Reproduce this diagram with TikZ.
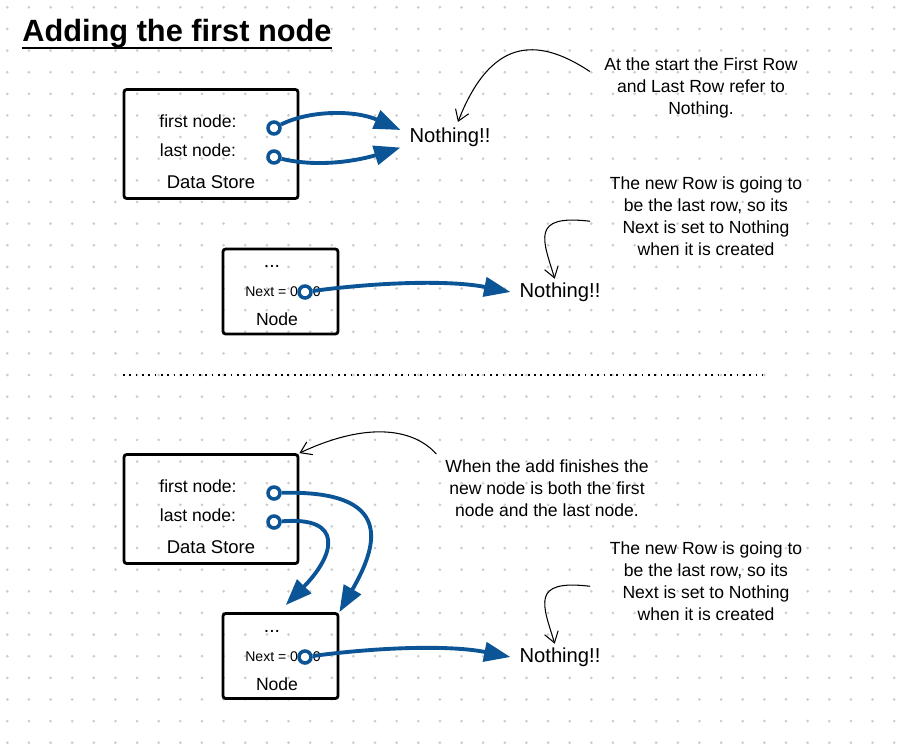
\documentclass[tikz,border=0pt]{standalone}
\usepackage{fontspec}
\setmainfont{Liberation Sans}
\usetikzlibrary{arrows.meta, positioning}
\definecolor{linkblue}{RGB}{11,84,150}

\begin{document}
\begin{tikzpicture}[
    x=0.02cm, y=-0.02cm,
    node distance=0.3cm,
    store/.style={draw, line width=1.6pt, rounded corners=1.5pt, minimum width=3.48cm, minimum height=2.18cm},
    rownode/.style={draw, line width=1.6pt, rounded corners=1.5pt, minimum width=2.3cm, minimum height=1.7cm},
    field/.style={font=\fontsize{10}{12}\selectfont, inner sep=0pt},
    port/.style={circle, draw=linkblue, fill=white, line width=2pt, minimum size=0.24cm, inner sep=0pt},
    link/.style={draw=linkblue, line width=2.2pt, -{Triangle[length=15pt,width=11pt]}},
    nothing/.style={font=\fontsize{11.5}{14}\selectfont, inner sep=1pt},
    note/.style={align=center, font=\fontsize{10}{12.5}\selectfont, inner sep=1pt},
    pointer/.style={draw, line width=0.6pt, -{Straight Barb[length=6pt,width=8pt]}}
]
\useasboundingbox (0,0) rectangle (898,751);

\foreach \i in {0,...,41}
  \foreach \j in {0,...,34}
    \fill[gray!40] (7.3+21.63*\i, 7.3+21.63*\j) circle (0.85pt);

\node[anchor=base west, inner sep=0pt, font=\bfseries\fontsize{17.5}{20}\selectfont] (title) at (22,41) {Adding the first node};
\draw[line width=1.3pt] ([yshift=-4pt]title.base west) -- ([yshift=-4pt]title.base east);

% before
\node[store] (storeA) at (211,144) {};
\node[field] (firstA) at (198,121) {first node:};
\node[field] (lastA) at (198,150) {last node:};
\node[field, font=\fontsize{10.5}{12}\selectfont] (nameA) at (211,182) {Data Store};
\node[port] (firstportA) at (274,128) {};
\node[port] (lastportA) at (274,157) {};
\node[nothing] (nothingA) at (450,137) {Nothing!!};
\draw[link] (firstportA) .. controls (310,110) and (355,110) .. ([xshift=-4pt,yshift=4pt]nothingA.west);
\draw[link] (lastportA) .. controls (320,168) and (360,160) .. ([xshift=-4pt,yshift=-6pt]nothingA.west);

\node[note] (noteA) at (701,88) {At the start the First Row\\and Last Row refer to\\Nothing.};
\draw[pointer] ([xshift=-7pt,yshift=-9pt]noteA.north west) .. controls (535,35) and (490,40) .. ([xshift=4.5pt,yshift=2pt]nothingA.north);

\node[rownode] (rowA) at (280.5,291.5) {};
\node[field, font=\fontsize{11}{12}\selectfont] (dotsA) at (272,266) {...};
\node[field, font=\fontsize{8}{10}\selectfont] (nextA) at (283,292) {Next = 0x10};
\node[field] (kindA) at (277,319) {Node};
\node[port] (nextportA) at (305,292) {};
\node[nothing] (nothingB) at (560,292) {Nothing!!};
\draw[link] (nextportA) .. controls (380,282) and (450,280) .. ([xshift=-4pt]nothingB.west);

\node[note] (noteB) at (706,216) {The new Row is going to\\be the last row, so its\\Next is set to Nothing\\when it is created};
\draw[pointer] ([xshift=-10pt,yshift=-3pt]noteB.west) .. controls (530,214) and (543,240) .. ([xshift=-3pt,yshift=1pt]nothingB.north);

\coordinate (sepL) at (123,375);
\coordinate (sepR) at (763,375);
\draw[line width=0.7pt, dash pattern=on 1pt off 2.6pt] (sepL) -- (sepR);

% after
\node[store] (storeB) at (211,509) {};
\node[field] (firstB) at (198,486) {first node:};
\node[field] (lastB) at (198,515) {last node:};
\node[field, font=\fontsize{10.5}{12}\selectfont] (nameB) at (211,547) {Data Store};
\node[port] (firstportB) at (274,493) {};
\node[port] (lastportB) at (274,522) {};

\node[rownode] (rowB) at (280.5,656) {};
\node[field, font=\fontsize{11}{12}\selectfont] (dotsB) at (272,631) {...};
\node[field, font=\fontsize{8}{10}\selectfont] (nextB) at (283,657) {Next = 0x10};
\node[field] (kindB) at (277,684) {Node};
\node[port] (nextportB) at (305,657) {};

\draw[link] (firstportB) .. controls (395,490) and (378,545) .. (rowB.north east);
\draw[link] (lastportB) .. controls (345,516) and (335,555) .. ([xshift=3pt,yshift=4pt]rowB.north);

\node[note] (noteC) at (547,488) {When the add finishes the\\new node is both the first\\node and the last node.};
\draw[pointer] ([xshift=-4pt,yshift=2pt]noteC.north west) .. controls (415,430) and (370,420) .. (storeB.north east);

\node[nothing] (nothingC) at (560,657) {Nothing!!};
\draw[link] (nextportB) .. controls (380,647) and (450,645) .. ([xshift=-4pt]nothingC.west);

\node[note] (noteD) at (706,581) {The new Row is going to\\be the last row, so its\\Next is set to Nothing\\when it is created};
\draw[pointer] ([xshift=-10pt,yshift=-3pt]noteD.west) .. controls (530,579) and (543,605) .. ([xshift=-3pt,yshift=1pt]nothingC.north);

\end{tikzpicture}
\end{document}
